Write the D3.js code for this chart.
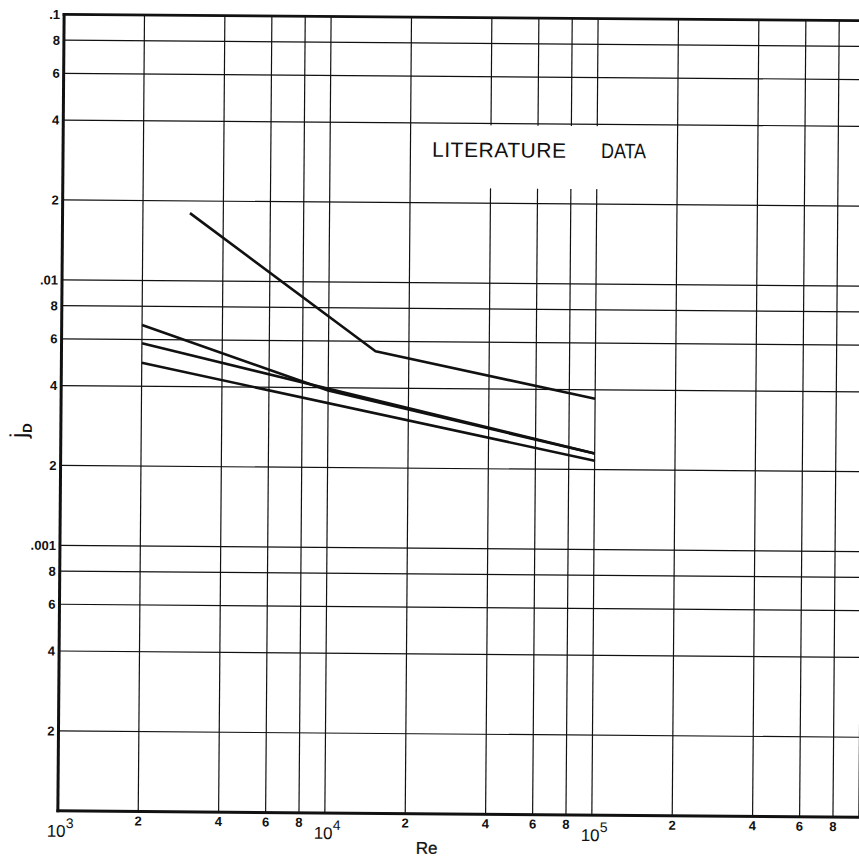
<!DOCTYPE html>
<html>
<head>
<meta charset="utf-8">
<script src="https://cdn.jsdelivr.net/npm/d3@7"></script>
<style>
  html, body { margin: 0; padding: 0; background: #fff; }
  svg { display: block; }
</style>
</head>
<body>
<svg id="chart" width="859" height="859"></svg>
<script>
// Log grid: Reynolds number from 10^3 to 10^6, j_D from 10^-4 to 10^-1
const xGridValues = [1e3, 2e3, 4e3, 6e3, 8e3, 1e4, 2e4, 4e4, 6e4, 8e4, 1e5, 2e5, 4e5, 6e5, 8e5, 1e6];
const yGridValues = [1e-4, 2e-4, 4e-4, 6e-4, 8e-4, 1e-3, 2e-3, 4e-3, 6e-3, 8e-3, 1e-2, 2e-2, 4e-2, 6e-2, 8e-2, 1e-1];

// Tick labels along the Re axis (base text plus optional exponent)
const xTickValues = [1e3, 2e3, 4e3, 6e3, 8e3, 1e4, 2e4, 4e4, 6e4, 8e4, 1e5, 2e5, 4e5, 6e5, 8e5];
const xTickLabels = ["10", "2", "4", "6", "8", "10", "2", "4", "6", "8", "10", "2", "4", "6", "8"];
const xTickExps   = ["3", "", "", "", "", "4", "", "", "", "", "5", "", "", "", ""];

// Tick labels along the j_D axis
const yTickValues = [2e-4, 4e-4, 6e-4, 8e-4, 1e-3, 2e-3, 4e-3, 6e-3, 8e-3, 1e-2, 2e-2, 4e-2, 6e-2, 8e-2, 1e-1];
const yTickLabels = ["2", "4", "6", "8", ".001", "2", "4", "6", "8", ".01", "2", "4", "6", "8", ".1"];

// Literature correlations (Re, j_D)
const reA = [3000, 15000, 100000];
const jdA = [0.018, 0.0055, 0.0037];
const reB = [2000, 10000, 100000];
const jdB = [0.0068, 0.0039, 0.0023];
const reC = [2000, 100000];
const jdC = [0.0058, 0.0023];
const reD = [2000, 100000];
const jdD = [0.0049, 0.00216];

const curves = [
  { re: reA, jd: jdA },
  { re: reB, jd: jdB },
  { re: reC, jd: jdC },
  { re: reD, jd: jdD }
];

const svg = d3.select("#chart");
const sheet = svg.append("g").attr("transform", "rotate(0.45 459 413)");

const x = d3.scaleLog().domain([1e3, 1e6]).range([61, 862]);
const y = d3.scaleLog().domain([1e-4, 1e-1]).range([814, 17.5]);

const ink = "#111";
const font = "'Liberation Sans', Arial, Helvetica, sans-serif";

// grid
sheet.append("g").selectAll("line").data(xGridValues).join("line")
  .attr("x1", d => x(d)).attr("x2", d => x(d))
  .attr("y1", y(1e-4)).attr("y2", y(1e-1))
  .attr("stroke", ink).attr("stroke-width", 1.2);

sheet.append("g").selectAll("line").data(yGridValues).join("line")
  .attr("x1", x(1e3)).attr("x2", x(1e6) + 10)
  .attr("y1", d => y(d)).attr("y2", d => y(d))
  .attr("stroke", ink).attr("stroke-width", 1.2);

// frame
sheet.append("line")
  .attr("x1", x(1e3)).attr("x2", x(1e3))
  .attr("y1", y(1e-1) - 1).attr("y2", y(1e-4) + 1.5)
  .attr("stroke", ink).attr("stroke-width", 3);
sheet.append("line")
  .attr("x1", x(1e3) - 1.5).attr("x2", x(1e6) + 10)
  .attr("y1", y(1e-4)).attr("y2", y(1e-4))
  .attr("stroke", ink).attr("stroke-width", 3);
sheet.append("line")
  .attr("x1", x(1e3) - 1.5).attr("x2", x(1e6) + 10)
  .attr("y1", y(1e-1)).attr("y2", y(1e-1))
  .attr("stroke", ink).attr("stroke-width", 2.6);

// title panel
sheet.append("rect")
  .attr("x", x(2e4) + 2)
  .attr("y", y(4e-2) + 2)
  .attr("width", x(2e5) - x(2e4) - 4)
  .attr("height", y(2e-2) - y(4e-2) - 17)
  .attr("fill", "#fff");

const titleStyle = t => t
  .attr("font-family", font).attr("font-size", 21)
  .attr("fill", ink);

titleStyle(sheet.append("text")
  .attr("x", 430).attr("y", 157)
  .attr("textLength", 134).attr("lengthAdjust", "spacing"))
  .text("LITERATURE");
titleStyle(sheet.append("text")
  .attr("x", 599).attr("y", 157)
  .attr("textLength", 45).attr("lengthAdjust", "spacingAndGlyphs"))
  .text("DATA");

// curves
const line = d3.line()
  .x(d => x(d[0]))
  .y(d => y(d[1]));

sheet.append("g").selectAll("path").data(curves).join("path")
  .attr("d", c => line(c.re.map((r, i) => [r, c.jd[i]])))
  .attr("fill", "none")
  .attr("stroke", ink)
  .attr("stroke-width", 2.6)
  .attr("stroke-linejoin", "round");

// x tick labels
const xLabels = sheet.append("g").attr("font-family", font).attr("fill", ink);
xTickValues.forEach((v, i) => {
  if (xTickExps[i]) {
    const t = xLabels.append("text")
      .attr("x", x(v) - 11).attr("y", y(1e-4) + 26)
      .attr("font-size", 17);
    t.append("tspan").text(xTickLabels[i]);
    t.append("tspan").attr("dy", -9).attr("font-size", 14).text(xTickExps[i]);
  } else {
    xLabels.append("text")
      .attr("x", x(v)).attr("y", y(1e-4) + 14)
      .attr("text-anchor", "middle")
      .attr("font-size", 13).attr("font-weight", "bold")
      .text(xTickLabels[i]);
  }
});

// y tick labels
sheet.append("g").attr("font-family", font).attr("fill", ink)
  .selectAll("text").data(yTickValues).join("text")
  .attr("x", x(1e3) - 4)
  .attr("y", d => y(d))
  .attr("dy", "0.36em")
  .attr("text-anchor", "end")
  .attr("font-size", 13).attr("font-weight", "bold")
  .text((d, i) => yTickLabels[i]);

// axis titles
const yTitle = sheet.append("text")
  .attr("transform", "translate(27, 434) rotate(-90)")
  .attr("text-anchor", "middle")
  .attr("font-family", font).attr("font-size", 24)
  .attr("fill", ink);
yTitle.append("tspan").text("j");
yTitle.append("tspan").attr("dy", 5).attr("font-size", 13).attr("font-weight", "bold").text("D");

sheet.append("text")
  .attr("x", 430).attr("y", 854)
  .attr("text-anchor", "middle")
  .attr("font-family", font).attr("font-size", 17)
  .attr("fill", ink).attr("stroke", ink).attr("stroke-width", 0.3)
  .text("Re");
</script>
</body>
</html>
